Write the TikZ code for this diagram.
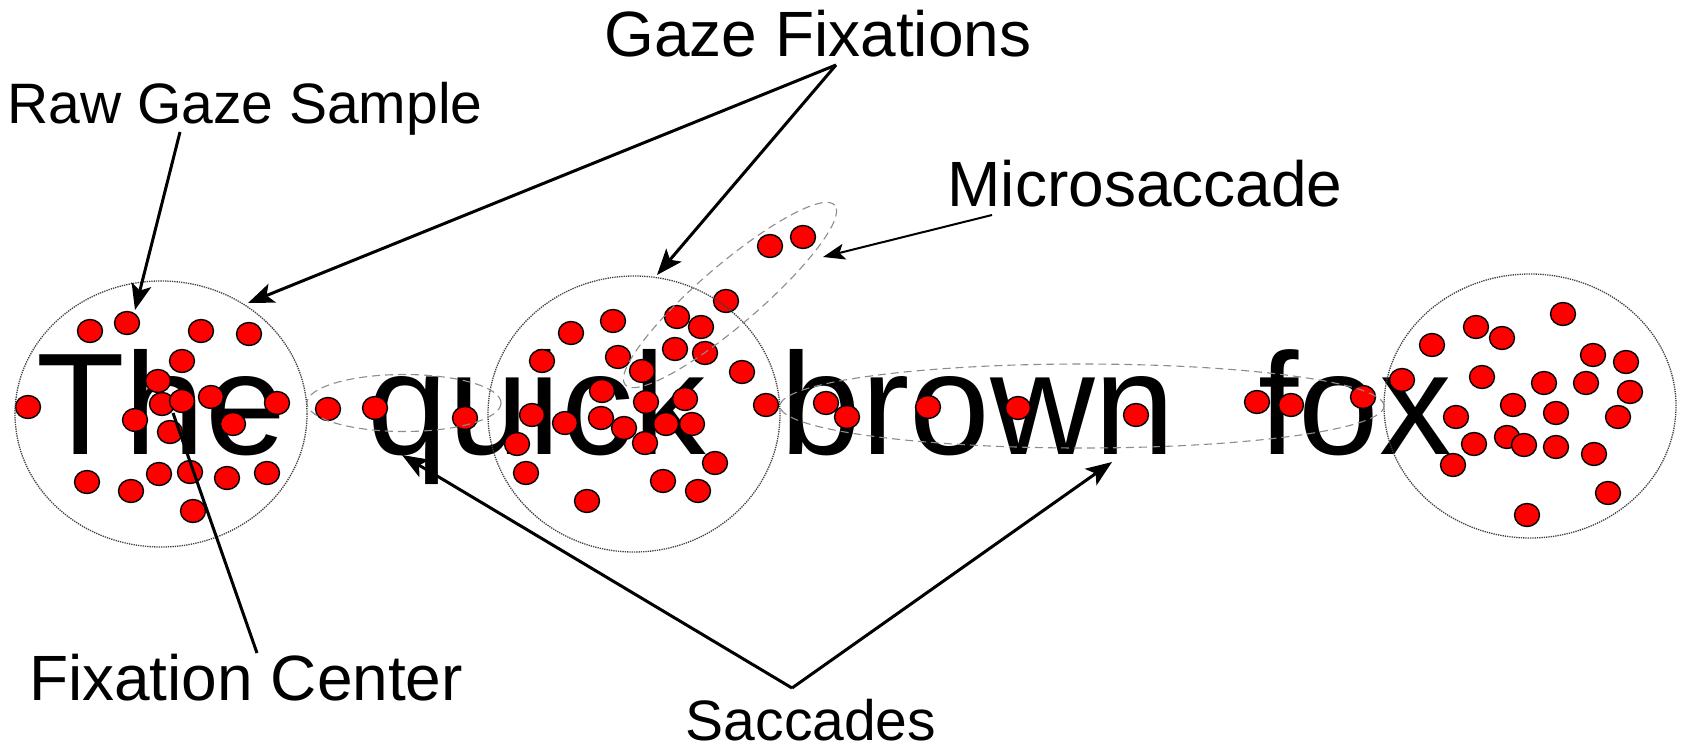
\documentclass[tikz,border=0pt]{standalone}
\usepackage{fontspec}
\setmainfont{Liberation Sans}
\usetikzlibrary{arrows.meta,shapes.geometric}
\begin{document}
\begin{tikzpicture}[x=1pt,y=-1pt,
  dot/.style={ellipse,draw=black,fill=red,line width=1.4pt,minimum width=25pt,minimum height=23pt,inner sep=0pt},
  fixcirc/.style={ellipse,draw=black!75,densely dotted,line width=1.3pt,inner sep=0pt},
  sacc/.style={draw=black!45,line width=1.1pt,dash pattern=on 8pt off 5pt},
  word/.style={font=\fontsize{145}{150}\selectfont,inner sep=0pt,anchor=base},
  lab/.style={font=\fontsize{64}{70}\selectfont,inner sep=0pt,anchor=base},
  arr/.style={line width=3pt,-{Stealth[length=26pt,width=20pt,inset=6pt]}},
  ptr/.style={line width=3pt}]
\useasboundingbox (0,0) rectangle (1685,749);
% words
\node[word] (w1) at (161,454) {The};
\node[word] (w2) at (537,454) {quick};
\node[word] (w3) at (978,454) {brown};
\node[word] (w4) at (1355,454) {fox};
% dots
\foreach \px/\py [count=\i] in {90/331,127/323,201/331,249/334,182/361,158/381,28/407,162/404,182/401,211/397,277/403,135/420,170/432,233/424,87/482,131/491,159/474,190/472,227/478,267/473,193/511,
328/409,375/408,465/418,
770/246,803/237,726/301,571/333,613/321,677/317,701/327,542/361,618/357,675/349,705/353,642/371,742/372,602/391,646/402,685/399,766/405,532/415,565/423,601/418,624/428,666/424,692/424,645/443,517/444,715/463,526/473,663/481,698/491,587/501,
826/403,847/417,928/407,1018/408,1136/415,
1257/402,1291/405,1363/397,
1402/380,1563/314,1476/327,1502/338,1432/345,1593/355,1626/362,1482/377,1544/383,1586/383,1630/392,1513/405,1456/417,1556/413,1618/417,1474/444,1507/437,1524/445,1556/447,1594/454,1453/465,1608/493,1527/515}
  \node[dot] (d\i) at (\px,\py) {};
% fixation circles
\node[fixcirc,minimum width=292pt,minimum height=266pt] (c1) at (161,414) {};
\node[fixcirc,minimum width=292pt,minimum height=276pt] (c2) at (634,414) {};
\node[fixcirc,minimum width=292pt,minimum height=264pt] (c3) at (1530,406) {};
% saccade ellipses
\node[sacc,ellipse,minimum width=194pt,minimum height=57pt,inner sep=0pt] (s1) at (404,403) {};
\node[sacc,ellipse,minimum width=604pt,minimum height=84pt,inner sep=0pt] (s2) at (1082,406) {};
\node[sacc,ellipse,minimum width=276pt,minimum height=60pt,inner sep=0pt,rotate=40.6] (ms) at (730,295) {};
% labels
\node[lab,font=\fontsize{57}{62}\selectfont] (lraw) at (245,124) {Raw Gaze Sample};
\node[lab] (lgaze) at (818,57) {Gaze Fixations};
\node[lab] (lmic) at (1145,206) {Microsaccade};
\node[lab] (lfc) at (246,700) {Fixation Center};
\node[lab,font=\fontsize{57}{62}\selectfont,text depth=0pt] (lsac) at (811,740) {Saccades};
% connector endpoints
\coordinate (rawS) at (180,132);
\coordinate (rawT) at (135,310);
\coordinate (gS) at (836,65);
\coordinate (g1T) at (248,303);
\coordinate (g2T) at (657,275);
\coordinate (mS) at (992,215);
\coordinate (mT) at (823,257);
\coordinate (fcS) at (257,653);
\coordinate (fcT) at (173,413);
\coordinate (sS) at (792,688);
\coordinate (s1T) at (402,455);
\coordinate (s2T) at (1112,462);
\draw[arr] (rawS) -- (rawT);
\draw[arr] (gS) -- (g1T);
\draw[arr] (gS) -- (g2T);
\draw[line width=2pt,-{Stealth[length=22pt,width=16pt,inset=5pt]}] (mS) -- (mT);
\draw[ptr] (fcS) -- (fcT);
\draw[arr] (sS) -- (s1T);
\draw[arr] (sS) -- (s2T);
\end{tikzpicture}
\end{document}
